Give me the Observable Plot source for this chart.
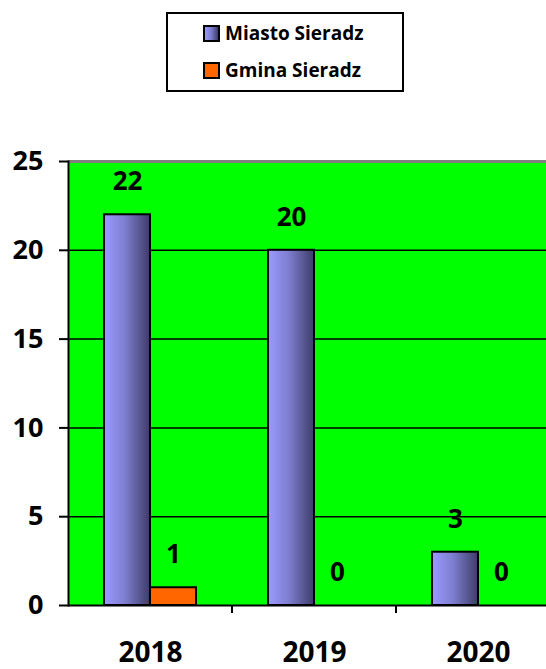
<!DOCTYPE html>
<html>
<head>
<meta charset="utf-8">
<script src="https://cdn.jsdelivr.net/npm/d3@7"></script>
<script src="https://cdn.jsdelivr.net/npm/@observablehq/plot@0.6"></script>
<style>
  html, body { margin: 0; padding: 0; background: #fff; overflow: hidden; }
  #wrap { position: relative; width: 546px; height: 669px; overflow: hidden; font-family: "Open Sans", Lato, sans-serif; }
  #legend { position: absolute; left: 166px; top: 12px; width: 238px; height: 80px; box-sizing: border-box; border: 2px solid #000; }
  .item { position: absolute; left: 35px; display: flex; align-items: center; font-weight: bold; font-size: 19px; color: #000; line-height: 22px; white-space: nowrap; }
  .sw { width: 17px; height: 17px; box-sizing: border-box; border: 2px solid #000; margin-right: 5px; }
  #chart { position: absolute; left: 0; top: 100px; }
  #chart svg { max-width: none !important; }
</style>
</head>
<body>
<div id="wrap">
  <div id="legend"></div>
  <div id="chart"></div>
</div>
<script>
const years = ["2018", "2019", "2020"];
const seriesNames = ["Miasto Sieradz", "Gmina Sieradz"];
const miastoValues = [22, 20, 3];
const gminaValues = [1, 0, 0];
const seriesFills = ["url(#gradMiasto)", "#ff6600"];
const legendFills = ["linear-gradient(to right, #9a9aff, #7e7ed0 45%, #3c3c68)", "#ff6600"];
const yTicks = [0, 5, 10, 15, 20, 25];
const gridValues = [5, 10, 15, 20];

const data = [];
years.forEach((yr, i) => {
  data.push({year: yr, series: seriesNames[0], value: miastoValues[i]});
  data.push({year: yr, series: seriesNames[1], value: gminaValues[i]});
});

// legend
const legend = document.getElementById("legend");
seriesNames.forEach((name, i) => {
  const it = document.createElement("div");
  it.className = "item";
  it.style.top = (i === 0 ? 8 : 45) + "px";
  const sw = document.createElement("div");
  sw.className = "sw";
  sw.style.background = legendFills[i];
  const tx = document.createElement("span");
  tx.textContent = name;
  it.appendChild(sw);
  it.appendChild(tx);
  legend.appendChild(it);
});

const chart = Plot.plot({
  width: 560,
  height: 569,
  marginLeft: 68,
  marginRight: 0,
  marginTop: 61,
  marginBottom: 64,
  style: {fontFamily: "'Open Sans', Lato, sans-serif", background: "transparent", color: "black", overflow: "visible", maxWidth: "none"},
  fx: {domain: years, padding: 0},
  x: {domain: seriesNames, paddingInner: 0, paddingOuter: 0.745, axis: null},
  y: {domain: [0, 25]},
  color: {type: "identity"},
  marks: [
    Plot.frame({fill: "#00ff00", stroke: "none", shapeRendering: "crispEdges"}),
    Plot.ruleY(gridValues, {stroke: "black", strokeWidth: 1.5}),
    Plot.ruleY([25], {stroke: "#808080", strokeWidth: 3}),
    Plot.barY(data, {
      fx: "year", x: "series", y: "value",
      fill: d => seriesFills[seriesNames.indexOf(d.series)],
      stroke: "black", strokeWidth: 2
    }),
    Plot.text(data, {
      fx: "year", x: "series", y: "value", text: d => String(d.value),
      dy: -33, fontSize: 26, fontWeight: "bold", fill: "black"
    }),
    Plot.ruleY([0], {stroke: "black", strokeWidth: 2}),
    Plot.frame({anchor: "left", facetAnchor: "left", stroke: "black", strokeWidth: 2}),
    Plot.axisY({ticks: yTicks, tickSize: 9, tickPadding: 16, fontSize: 27, fontWeight: "bold", strokeWidth: 2, label: null, tickFormat: d => String(d), fill: "black"}),
    Plot.axisFx({anchor: "bottom", tickSize: 0, tickPadding: 37, fontSize: 28, fontWeight: "bold", label: null, fill: "black"})
  ]
});

// gradient definition for the Miasto bars
const svg = d3.select(chart.tagName.toLowerCase() === "svg" ? chart : chart.querySelector("svg"));
const defs = svg.insert("defs", ":first-child");
const g = defs.append("linearGradient").attr("id", "gradMiasto").attr("x1", "0%").attr("x2", "100%").attr("y1", "0%").attr("y2", "0%");
g.append("stop").attr("offset", "0%").attr("stop-color", "#9a9aff");
g.append("stop").attr("offset", "45%").attr("stop-color", "#7e7ed0");
g.append("stop").attr("offset", "100%").attr("stop-color", "#3c3c68");

// category boundary ticks on the x axis, placed with the fx scale
const fxs = chart.scale("fx");
const ys = chart.scale("y");
const y0 = ys.apply(0);
years.slice(1).forEach(yr => {
  const x = fxs.apply(yr);
  svg.append("line").attr("x1", x).attr("x2", x).attr("y1", y0).attr("y2", y0 + 8)
    .attr("stroke", "black").attr("stroke-width", 2);
});

document.getElementById("chart").appendChild(chart);
</script>
</body>
</html>
